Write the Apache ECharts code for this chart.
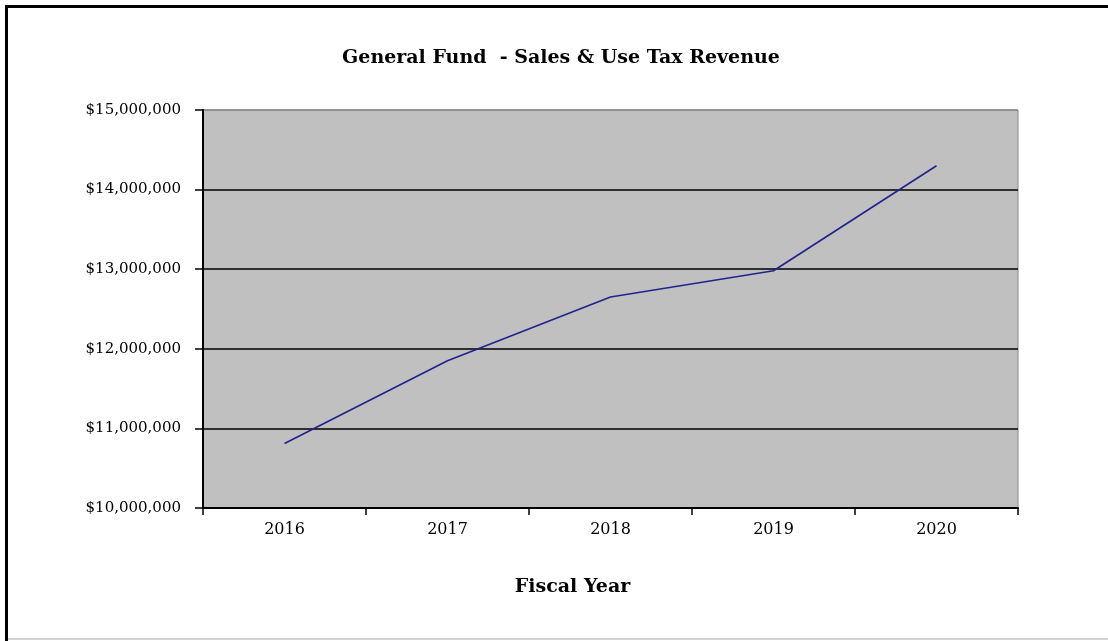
<!DOCTYPE html>
<html>
<head>
<meta charset="utf-8">
<script src="https://cdn.jsdelivr.net/npm/echarts@6/dist/echarts.min.js"></script>
<style>
html,body{margin:0;padding:0;background:#fff;}
#c{width:1108px;height:641px;}
</style>
</head>
<body>
<div id="c"></div>
<script>
const categories = ['2016', '2017', '2018', '2019', '2020'];
const revenue = [10810000, 11850000, 12650000, 12980000, 14300000];
const yTicks = [10000000, 11000000, 12000000, 13000000, 14000000, 15000000];

const chart = echarts.init(document.getElementById('c'));
const serif = '"DejaVu Serif", "Liberation Serif", serif';
function money(v){ return '$' + v.toString().replace(/\B(?=(\d{3})+(?!\d))/g, ','); }

chart.setOption({
  animation: false,
  backgroundColor: '#fff',
  title: {
    text: 'General Fund  - Sales & Use Tax Revenue',
    left: 556, top: 44, textAlign: 'center',
    textStyle: { fontFamily: serif, fontWeight: 'bold', fontSize: 19, color: '#000' }
  },
  graphic: [
    { type: 'rect', shape: { x: 5, y: 5, width: 3, height: 636 }, style: { fill: '#000' }, silent: true },
    { type: 'rect', shape: { x: 5, y: 5, width: 1103, height: 3 }, style: { fill: '#000' }, silent: true },
    { type: 'rect', shape: { x: 8, y: 638, width: 1100, height: 2 }, style: { fill: '#d4d4d4' }, silent: true }
  ],
  grid: {
    left: 203, right: 90, top: 110, bottom: 133,
    show: true, backgroundColor: '#c0c0c0', borderColor: '#888', borderWidth: 1
  },
  xAxis: {
    type: 'category',
    data: categories,
    boundaryGap: true,
    name: 'Fiscal Year',
    nameLocation: 'middle',
    nameGap: 70,
    nameTextStyle: { fontFamily: serif, fontWeight: 'bold', fontSize: 19, color: '#000', padding: [0, 76, 0, 0] },
    axisLine: { lineStyle: { color: '#000', width: 2 } },
    axisTick: { show: true, length: 7, alignWithLabel: false, lineStyle: { color: '#000', width: 1.5 } },
    axisLabel: { fontFamily: serif, fontSize: 16, color: '#000', margin: 14 },
    splitLine: { show: false }
  },
  yAxis: {
    type: 'value',
    min: yTicks[0], max: yTicks[yTicks.length - 1], interval: 1000000,
    axisLine: { show: true, lineStyle: { color: '#000', width: 2 } },
    axisTick: { show: true, length: 8, lineStyle: { color: '#000', width: 1.5 } },
    axisLabel: { fontFamily: serif, fontSize: 15, color: '#000', margin: 22, formatter: money },
    splitLine: { show: true, lineStyle: { color: ['#000', '#000', '#000', '#000', '#000', '#888'], width: 1.5 } }
  },
  series: [{
    type: 'line',
    data: revenue,
    showSymbol: false,
    symbol: 'none',
    lineStyle: { color: '#22228c', width: 1.6 }
  }]
});
</script>
</body>
</html>
